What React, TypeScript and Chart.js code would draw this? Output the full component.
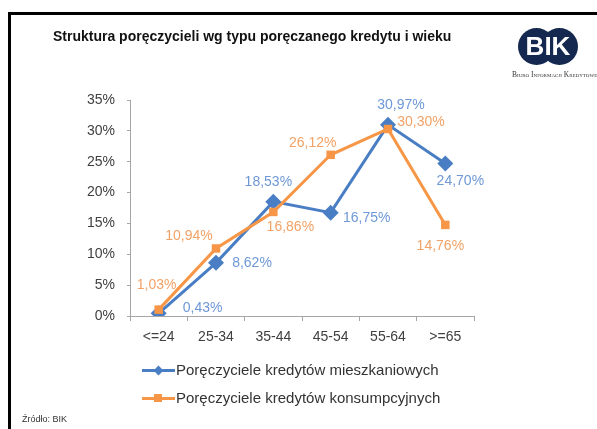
import React, { useEffect, useRef } from "react";
import { Chart, registerables } from "chart.js";

Chart.register(...registerables);

const categories = ["<=24", "25-34", "35-44", "45-54", "55-64", ">=65"];
const mieszkaniowe = [0.43, 8.62, 18.53, 16.75, 30.97, 24.7];
const konsumpcyjne = [1.03, 10.94, 16.86, 26.12, 30.3, 14.76];
const seriesNames = [
  "Poręczyciele kredytów mieszkaniowych",
  "Poręczyciele kredytów konsumpcyjnych",
];
const yTicksMax = 35;
const yTicksStep = 5;

// label offsets relative to each point (style only)
const labelOffsets = [
  [[44, -5], [36, 0], [-5, -20], [36, 6], [13, -20], [15, 18]],
  [[-2, -25], [-27, -12], [17, 15], [-18, -12], [33, -7], [-5, 21]],
];

const BLUE = "#4a7ec4";
const ORANGE = "#f79646";
const BLUE_TXT = "#6e98d6";
const ORANGE_TXT = "#f2a266";
const FONT = "'Liberation Sans', Arial, sans-serif";

const labelPlugin = {
  id: "pointLabels",
  afterDatasetsDraw(chart: any) {
    const ctx = chart.ctx;
    ctx.save();
    ctx.font = `14px ${FONT}`;
    ctx.textAlign = "center";
    ctx.textBaseline = "middle";
    chart.data.datasets.forEach((ds: any, i: number) => {
      const meta = chart.getDatasetMeta(i);
      ctx.fillStyle = i === 0 ? BLUE_TXT : ORANGE_TXT;
      meta.data.forEach((pt: any, j: number) => {
        const v = ds.data[j] as number;
        const t = v.toFixed(2).replace(".", ",") + "%";
        const off = labelOffsets[i][j];
        ctx.fillText(t, pt.x + off[0], pt.y + off[1]);
      });
    });
    ctx.restore();
  },
};

function LegendItem({ color, marker, label, top }: any) {
  return (
    <div style={{ position: "absolute", left: 142, top: top - 10, height: 20, width: 320 }}>
      <div style={{ position: "absolute", left: 0, top: 8.5, width: 33, height: 3, background: color }} />
      {marker === "diamond" ? (
        <div
          style={{
            position: "absolute",
            left: 12.5,
            top: 6.5,
            width: 7,
            height: 7,
            background: color,
            transform: "rotate(45deg)",
          }}
        />
      ) : (
        <div style={{ position: "absolute", left: 12, top: 6, width: 8, height: 8, background: color }} />
      )}
      <div
        style={{
          position: "absolute",
          left: 34,
          top: 0,
          lineHeight: "20px",
          fontSize: 15,
          fontFamily: FONT,
          color: "#333",
          whiteSpace: "nowrap",
        }}
      >
        {label}
      </div>
    </div>
  );
}

export default function App() {
  const ref = useRef<HTMLCanvasElement>(null);
  useEffect(() => {
    if (!ref.current) return;
    const chart = new Chart(ref.current, {
      type: "line",
      data: {
        labels: categories,
        datasets: [
          {
            label: seriesNames[0],
            data: mieszkaniowe,
            borderColor: BLUE,
            backgroundColor: BLUE,
            borderWidth: 3,
            pointStyle: "rectRot",
            pointRadius: 8,
            pointBorderWidth: 0,
            order: 2,
            tension: 0,
          },
          {
            label: seriesNames[1],
            data: konsumpcyjne,
            borderColor: ORANGE,
            backgroundColor: ORANGE,
            borderWidth: 3,
            pointStyle: "rect",
            pointRadius: 6,
            pointBorderWidth: 0,
            order: 1,
            tension: 0,
          },
        ],
      },
      options: {
        animation: false,
        responsive: false,
        maintainAspectRatio: false,
        layout: { padding: { left: 60, right: 123, top: 100, bottom: 73 } },
        plugins: { legend: { display: false }, tooltip: { enabled: false }, title: { display: false } },
        scales: {
          x: {
            type: "category",
            offset: true,
            grid: { offset: true, drawOnChartArea: false, drawTicks: true, tickLength: 5, color: "#a6a6a6" },
            border: { display: true, color: "#a6a6a6", width: 1 },
            ticks: { padding: 8, color: "#404040", font: { family: FONT, size: 14 }, maxRotation: 0 },
            afterFit: (s: any) => {
              s.height = 40;
            },
          },
          y: {
            min: 0,
            max: yTicksMax,
            grid: { drawOnChartArea: false, drawTicks: true, tickLength: 3, color: "#a6a6a6" },
            border: { display: true, color: "#a6a6a6", width: 1 },
            ticks: {
              stepSize: yTicksStep,
              padding: 12,
              color: "#404040",
              font: { family: FONT, size: 14 },
              callback: (v: any) => v + "%",
            },
            afterFit: (s: any) => {
              s.width = 70;
            },
          },
        },
      },
      plugins: [labelPlugin],
    });
    return () => chart.destroy();
  }, []);

  return (
    <div style={{ position: "fixed", left: 0, top: 0, width: 597, height: 429, overflow: "hidden", background: "#fff" }}>
      <div
        style={{
          position: "absolute",
          left: 8,
          top: 12,
          width: 620,
          height: 440,
          border: "3px solid #000",
          boxSizing: "border-box",
        }}
      />
      <canvas ref={ref} width={597} height={429} style={{ position: "absolute", left: 0, top: 0, width: 597, height: 429 }} />
      <div
        style={{
          position: "absolute",
          left: 53,
          top: 26,
          lineHeight: "20px",
          fontSize: 14,
          fontWeight: "bold",
          fontFamily: FONT,
          color: "#111",
          whiteSpace: "nowrap",
        }}
      >
        Struktura poręczycieli wg typu poręczanego kredytu i wieku
      </div>
      {/* logo */}
      <div style={{ position: "absolute", left: 518, top: 28, width: 37, height: 37, borderRadius: "50%", background: "#15284f" }} />
      <div style={{ position: "absolute", left: 541, top: 28, width: 37, height: 37, borderRadius: "50%", background: "#15284f" }} />
      <div
        style={{
          position: "absolute",
          left: 518,
          top: 28,
          width: 60,
          height: 37,
          lineHeight: "37px",
          textAlign: "center",
          color: "#fff",
          fontWeight: "bold",
          fontSize: 26,
          fontFamily: FONT,
        }}
      >
        BIK
      </div>
      <div
        style={{
          position: "absolute",
          left: 512,
          top: 70,
          fontSize: 7.5,
          lineHeight: "10px",
          fontFamily: "'Liberation Serif', serif",
          fontVariant: "small-caps",
          color: "#333",
          whiteSpace: "nowrap",
        }}
      >
        Biuro Informacji Kredytowej
      </div>
      <LegendItem color={BLUE} marker="diamond" label={seriesNames[0]} top={370} />
      <LegendItem color={ORANGE} marker="square" label={seriesNames[1]} top={398} />
      <div
        style={{
          position: "absolute",
          left: 22,
          top: 413,
          fontSize: 9,
          lineHeight: "12px",
          fontFamily: FONT,
          color: "#333",
          whiteSpace: "nowrap",
        }}
      >
        Źródło: BIK
      </div>
    </div>
  );
}
